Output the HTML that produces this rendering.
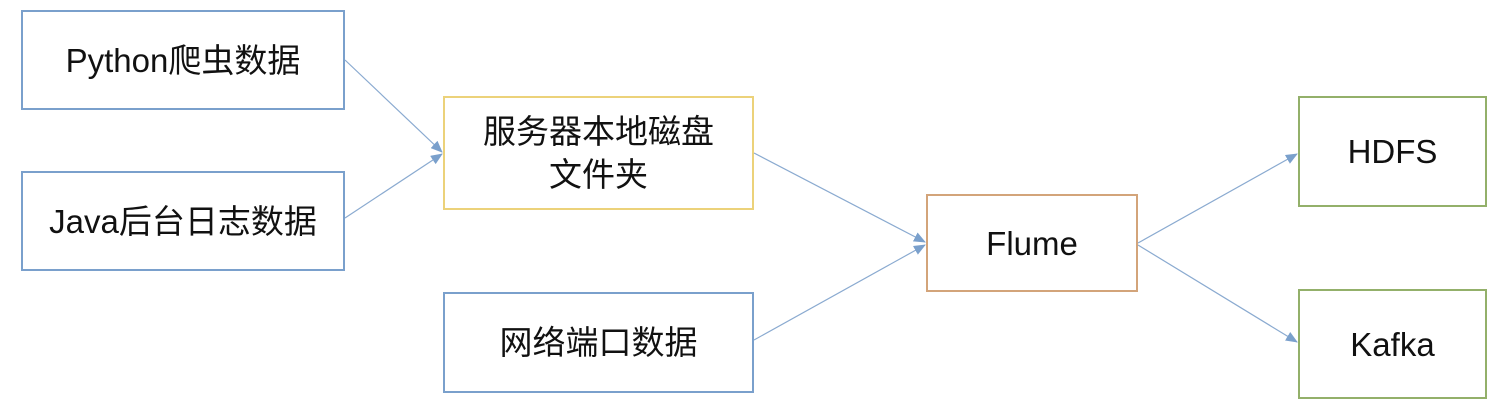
<!DOCTYPE html>
<html><head><meta charset="utf-8"><style>
body{margin:0;width:1500px;height:418px;background:#fff;overflow:hidden;position:relative;font-family:"Liberation Sans","Noto Sans CJK SC",sans-serif;}
.b{position:absolute;box-sizing:border-box;border:2px solid #7aa0cc;display:flex;align-items:center;justify-content:center;text-align:center;font-size:33px;color:#111;line-height:43px;}
svg{position:absolute;left:0;top:0}
</style></head><body>
<div class="b" style="left:21px;top:10px;width:324px;height:100px">Python爬虫数据</div>
<div class="b" style="left:21px;top:171px;width:324px;height:100px">Java后台日志数据</div>
<div class="b" style="left:443px;top:96px;width:311px;height:114px;border-color:#ecd27a">服务器本地磁盘<br>文件夹</div>
<div class="b" style="left:443px;top:292px;width:311px;height:101px">网络端口数据</div>
<div class="b" style="left:926px;top:194px;width:212px;height:98px;border-color:#d3a47a">Flume</div>
<div class="b" style="left:1298px;top:96px;width:189px;height:111px;border-color:#93b06a">HDFS</div>
<div class="b" style="left:1298px;top:289px;width:189px;height:110px;border-color:#93b06a">Kafka</div>
<svg width="1500" height="418">
<defs><marker id="a" markerWidth="12" markerHeight="10" refX="11" refY="5" orient="auto" markerUnits="userSpaceOnUse"><path d="M0,0 L12,5 L0,10 z" fill="#7aa0cc"/></marker></defs>
<g stroke="#8aaad0" stroke-width="1.2" fill="none" marker-end="url(#a)">
<line x1="345" y1="60" x2="442" y2="152"/>
<line x1="345" y1="218" x2="442" y2="154"/>
<line x1="754" y1="153" x2="925" y2="242"/>
<line x1="754" y1="340" x2="925" y2="245"/>
<line x1="1138" y1="243" x2="1297" y2="154"/>
<line x1="1138" y1="245" x2="1297" y2="342"/>
</g></svg>
</body></html>
